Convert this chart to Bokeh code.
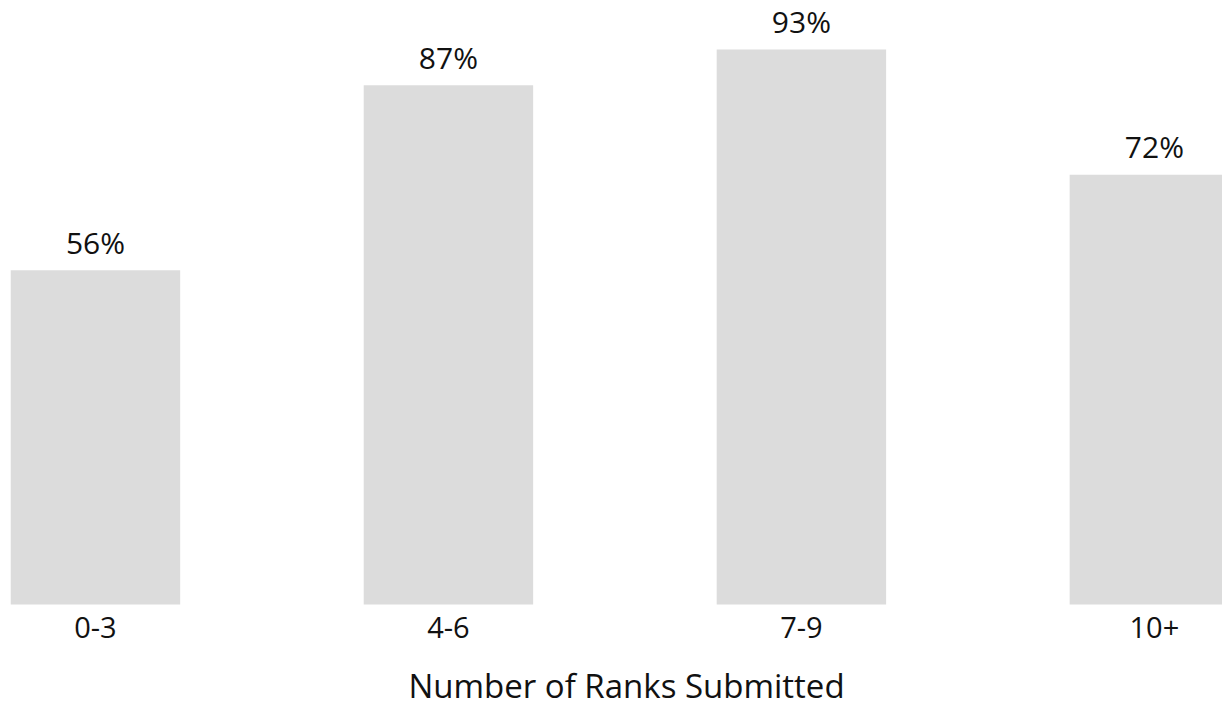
from bokeh.plotting import figure
from bokeh.models import ColumnDataSource, Range1d, Label
from bokeh.core.properties import value
from bokeh.embed import file_html
from bokeh.resources import INLINE

# Share of submissions by number of ranks submitted
categories = ["0-3", "4-6", "7-9", "10+"]
shares = [56, 87, 93, 72]
share_labels = [f"{v}%" for v in shares]
positions = list(range(len(categories)))
baseline = [0] * len(categories)
x_title = "Number of Ranks Submitted"

FONT = "Open Sans"
BAR_COLOR = "#dcdcdc"
TEXT_COLOR = "#111111"

source = ColumnDataSource(data=dict(
    pos=positions, share=shares, label=share_labels, cat=categories, base=baseline,
))

# the plot frame covers the whole canvas; category names and the axis title
# sit in the strip below zero
p = figure(
    width=1222,
    height=707,
    x_range=Range1d(-0.269, 3.193),
    y_range=Range1d(-17.26, 101.2),
    output_backend="svg",
    toolbar_location=None,
    min_border=0,
    outline_line_color=None,
    background_fill_color="white",
    border_fill_color="white",
)
p.axis.visible = False
p.grid.visible = False

p.vbar(x="pos", top="share", bottom="base", width=0.48, source=source,
       fill_color=BAR_COLOR, line_color=None)

# value labels above each bar
p.text(
    x="pos", y="share", text="label", source=source,
    y_offset=-28,
    text_align="center", text_baseline="alphabetic",
    text_font=value(FONT), text_font_size="30px", text_color=TEXT_COLOR,
)

# category labels under each bar
p.text(
    x="pos", y="base", text="cat", source=source,
    y_offset=23,
    text_align="center", text_baseline="alphabetic",
    text_font=value(FONT), text_font_size="29px", text_color=TEXT_COLOR,
)

# x-axis title
p.add_layout(Label(
    x=626, y=22, x_units="screen", y_units="screen",
    text=x_title,
    text_align="center",
    text_baseline="alphabetic",
    text_font=FONT,
    text_font_size="33px",
    text_color=TEXT_COLOR,
))

open("out.html", "w").write(file_html(p, INLINE))
